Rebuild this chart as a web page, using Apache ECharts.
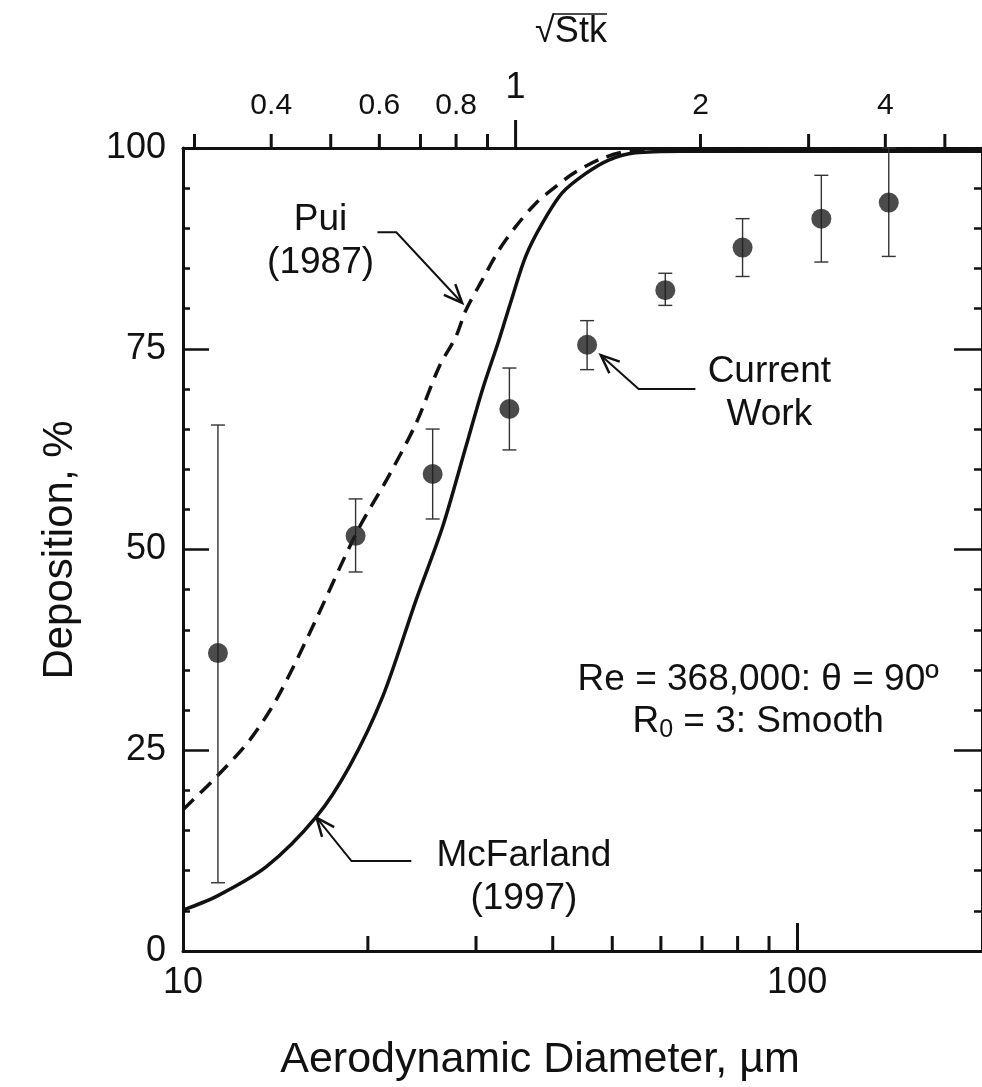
<!DOCTYPE html>
<html>
<head>
<meta charset="utf-8">
<script src="https://cdn.jsdelivr.net/npm/echarts@6/dist/echarts.min.js"></script>
<style>
  html, body { margin: 0; padding: 0; background: #fff; }
  #chart { width: 982px; height: 1087px; }
</style>
</head>
<body>
<div id="chart"></div>
<script>
// measured points (current work): diameter in µm, deposition in %
var diameters  = [11.4, 19.1, 25.5, 34.0, 45.5, 61.0, 81.5, 109.5, 141];
var deposition = [37.1, 51.7, 59.4, 67.5, 75.5, 82.3, 87.6, 91.2, 93.2];
var errLow     = [8.5, 47.2, 53.8, 62.4, 72.4, 80.4, 84.0, 85.8, 86.5];
var errHigh    = [65.5, 56.3, 65.0, 72.6, 78.5, 84.4, 91.2, 96.6, 100];

// McFarland (1997) - solid curve
var mcfD   = [10, 11.34, 13.67, 16.48, 18.67, 21.15, 23.96, 26.46, 28.88, 30.73, 32.70, 34.17, 36.14, 38.46, 41.44, 45.23, 49.34, 54.52, 65, 100, 200];
var mcfDep = [5.1, 6.8, 10.5, 16.7, 23.0, 31.7, 43.7, 52.8, 62.8, 69.9, 76.1, 80.8, 86.5, 90.6, 94.4, 96.8, 98.5, 99.4, 99.6, 99.6, 99.6];

// Pui (1987) - dashed curve
var puiD   = [10, 11.34, 12.85, 14.19, 16.08, 19.14, 21.68, 23.96, 26.14, 27.82, 28.88, 30.73, 32.70, 34.81, 37.52, 40.44, 43.57, 48.12, 53.17, 65, 100, 200];
var puiDep = [17.6, 21.7, 26.3, 31.3, 39.6, 52.0, 59.3, 65.7, 72.8, 76.5, 79.8, 83.6, 87.3, 90.2, 93.1, 95.2, 97.0, 98.7, 99.6, 99.8, 99.8, 99.8];

// axes
var diaMin = 10, diaMax = 200;
var diaMinorTicks = [20, 30, 40, 50, 60, 70, 80, 90];
var stkAtOne = 34.8;               // diameter (µm) where sqrt(Stk) = 1
var stkTicks = [0.3, 0.4, 0.5, 0.6, 0.7, 0.8, 0.9, 1, 2, 3, 4, 5];
var stkLabels = [0.4, 0.6, 0.8, 1, 2, 4];

var FONT = '"Liberation Sans", Arial, sans-serif';
var INK = '#111';

var chart = echarts.init(document.getElementById('chart'));

var option = {
  backgroundColor: '#fff',
  animation: false,
  grid: { left: 183, top: 148, right: -2, bottom: 136, containLabel: false },
  xAxis: [
    {
      type: 'log', logBase: 10, min: diaMin, max: diaMax, position: 'bottom',
      axisLine: { show: true, onZero: false, lineStyle: { color: INK, width: 3 } },
      axisTick: { show: true, inside: true, length: 28, lineStyle: { color: INK, width: 3 } },
      axisLabel: { show: true, margin: 14, showMaxLabel: false, color: INK, fontSize: 36, fontFamily: FONT },
      splitLine: { show: false }
    },
    {
      type: 'log', logBase: 10, min: diaMin / stkAtOne, max: diaMax / stkAtOne, position: 'top',
      axisLine: { show: true, onZero: false, lineStyle: { color: INK, width: 3 } },
      axisTick: { show: false },
      axisLabel: { show: false },
      splitLine: { show: false }
    }
  ],
  yAxis: [
    {
      type: 'value', min: 0, max: 100, interval: 25, position: 'left',
      axisLine: { show: true, lineStyle: { color: INK, width: 3 } },
      axisTick: { show: true, inside: true, length: 26, lineStyle: { color: INK, width: 2.5 } },
      minorTick: { show: true, splitNumber: 5, length: 7, lineStyle: { color: INK, width: 2.5 } },
      axisLabel: { margin: 17, color: INK, fontSize: 36, fontFamily: FONT },
      splitLine: { show: false }
    },
    {
      type: 'value', min: 0, max: 100, interval: 25, position: 'right',
      axisLine: { show: true, lineStyle: { color: INK, width: 3 } },
      axisTick: { show: true, inside: true, length: 28, lineStyle: { color: INK, width: 2.5 } },
      minorTick: { show: true, splitNumber: 5, length: 8, lineStyle: { color: INK, width: 2.5 } },
      axisLabel: { show: false },
      splitLine: { show: false }
    }
  ],
  series: [
    {
      // minor ticks on the diameter axis
      type: 'custom', xAxisIndex: 0, yAxisIndex: 0, clip: false, silent: true,
      data: diaMinorTicks.map(function (v) { return [v, 0]; }),
      renderItem: function (params, api) {
        var p = api.coord([api.value(0), 0]);
        return { type: 'line', shape: { x1: p[0], y1: p[1], x2: p[0], y2: p[1] - 15 },
                 style: { stroke: INK, lineWidth: 3 } };
      }
    },
    {
      // sqrt(Stk) ticks and labels on top
      type: 'custom', xAxisIndex: 1, yAxisIndex: 0, clip: false, silent: true,
      data: stkTicks.map(function (v) { return [v, 100]; }),
      renderItem: function (params, api) {
        var v = api.value(0);
        var p = api.coord([v, 100]);
        var big = v === 1;
        var children = [{ type: 'line',
          shape: { x1: p[0], y1: p[1], x2: p[0], y2: p[1] - (big ? 28 : 14) },
          style: { stroke: INK, lineWidth: 3 } }];
        if (stkLabels.indexOf(v) >= 0) {
          children.push({ type: 'text', style: {
            text: String(v), x: p[0], y: p[1] - (big ? 60 : 42),
            align: 'center', verticalAlign: 'middle',
            fontSize: big ? 36 : 30, fontFamily: FONT, fill: INK } });
        }
        return { type: 'group', children: children };
      }
    },
    {
      name: 'Pui (1987)', type: 'line', xAxisIndex: 0, yAxisIndex: 0,
      data: puiD.map(function (d, i) { return [d, puiDep[i]]; }),
      smooth: 0.3, showSymbol: false, silent: true,
      lineStyle: { color: INK, width: 3.5, type: [15, 9] }, z: 3
    },
    {
      name: 'McFarland (1997)', type: 'line', xAxisIndex: 0, yAxisIndex: 0,
      data: mcfD.map(function (d, i) { return [d, mcfDep[i]]; }),
      smooth: 0.3, showSymbol: false, silent: true,
      lineStyle: { color: INK, width: 3.5 }, z: 3
    },
    {
      // error bars
      type: 'custom', xAxisIndex: 0, yAxisIndex: 0, clip: false, silent: true,
      data: diameters.map(function (d, i) { return [d, errLow[i], errHigh[i]]; }),
      encode: { x: 0, y: [1, 2] },
      renderItem: function (params, api) {
        var lo = api.coord([api.value(0), api.value(1)]);
        var hi = api.coord([api.value(0), api.value(2)]);
        var w = 7, st = { stroke: '#333', lineWidth: 1.4 };
        return { type: 'group', children: [
          { type: 'line', shape: { x1: lo[0], y1: lo[1], x2: hi[0], y2: hi[1] }, style: st },
          { type: 'line', shape: { x1: lo[0] - w, y1: lo[1], x2: lo[0] + w, y2: lo[1] }, style: st },
          { type: 'line', shape: { x1: hi[0] - w, y1: hi[1], x2: hi[0] + w, y2: hi[1] }, style: st }
        ] };
      }, z: 4
    },
    {
      name: 'Current Work', type: 'scatter', xAxisIndex: 0, yAxisIndex: 0,
      data: diameters.map(function (d, i) { return [d, deposition[i]]; }),
      symbol: 'circle', symbolSize: 20, silent: true,
      itemStyle: { color: '#1e1e1e' }, z: 5
    }
  ]
};

chart.setOption(option);

// annotations, anchored in data coordinates (diameter, %)
var notes = [
  { text: 'Pui\n(1987)', at: [16.75, 88.4] },
  { text: 'Current\nWork', at: [90.1, 69.5] },
  { text: 'McFarland\n(1997)', at: [35.9, 9.2] }
];
var arrows = [
  [[20.73, 89.5], [22.25, 89.5], [28.48, 80.7]],
  [[68.3, 70.0], [55.2, 70.0], [47.9, 74.2]],
  [[23.54, 11.2], [18.81, 11.2], [16.50, 16.6]]
];

function px(p) {
  return chart.convertToPixel({ seriesIndex: 5 }, p);
}

var graphics = [];
notes.forEach(function (n) {
  var p = px(n.at);
  graphics.push({ type: 'text', x: p[0], y: p[1], silent: true, style: {
    text: n.text, align: 'center', verticalAlign: 'middle', lineHeight: 43,
    fontSize: 37, fontFamily: FONT, fill: INK } });
});
arrows.forEach(function (a) {
  var pts = a.map(px);
  var tip = pts[pts.length - 1], prev = pts[pts.length - 2];
  var ang = Math.atan2(tip[1] - prev[1], tip[0] - prev[0]);
  var L = 20, spread = 0.4;
  var b1 = [tip[0] - L * Math.cos(ang - spread), tip[1] - L * Math.sin(ang - spread)];
  var b2 = [tip[0] - L * Math.cos(ang + spread), tip[1] - L * Math.sin(ang + spread)];
  graphics.push({ type: 'polyline', silent: true, shape: { points: pts },
    style: { stroke: INK, lineWidth: 2, fill: 'none' } });
  graphics.push({ type: 'polyline', silent: true, shape: { points: [b1, tip, b2] },
    style: { stroke: INK, lineWidth: 2.5, fill: 'none' } });
});

// condition text
var cond = px([86.4, 31.1]);
graphics.push({ type: 'text', x: cond[0], y: cond[1] - 21, silent: true, style: {
  text: 'Re = 368,000: θ = 90º', align: 'center', verticalAlign: 'middle',
  fontSize: 37, fontFamily: FONT, fill: INK } });
graphics.push({ type: 'text', x: cond[0], y: cond[1] + 21, silent: true, style: {
  text: 'R{s|0} = 3: Smooth', align: 'center', verticalAlign: 'middle',
  fontSize: 37, fontFamily: FONT, fill: INK,
  rich: { s: { fontSize: 25, fontFamily: FONT, fill: INK, padding: [16, 0, 0, 0] } } } });

// axis titles
graphics.push({ type: 'text', x: 540, y: 1060, silent: true, style: {
  text: 'Aerodynamic Diameter, µm', align: 'center', verticalAlign: 'middle',
  fontSize: 43, fontFamily: FONT, fill: INK } });
graphics.push({ type: 'text', x: 60, y: 550, rotation: Math.PI / 2, silent: true, style: {
  text: 'Deposition, %', align: 'center', verticalAlign: 'middle',
  fontSize: 42, fontFamily: FONT, fill: INK } });
graphics.push({ type: 'text', x: 571, y: 32, silent: true, style: {
  text: '√Stk', align: 'center', verticalAlign: 'middle',
  fontSize: 36, fontFamily: FONT, fill: INK } });
graphics.push({ type: 'line', silent: true,
  shape: { x1: 553, y1: 14, x2: 607, y2: 14 }, style: { stroke: INK, lineWidth: 1.5 } });

chart.setOption({ graphic: graphics });
</script>
</body>
</html>
